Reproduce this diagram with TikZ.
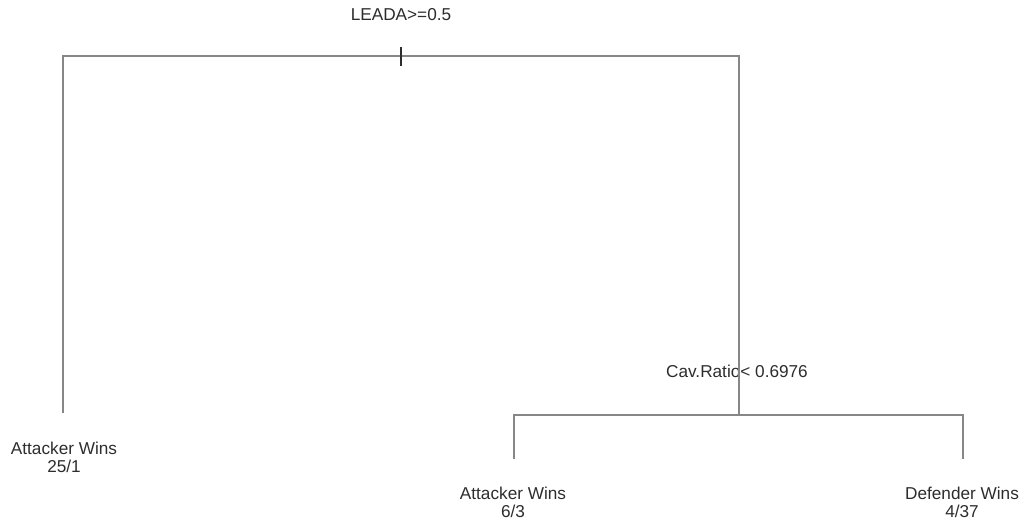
\documentclass[tikz,border=0pt]{standalone}
\usepackage{xcolor}
\usepackage{fontspec}
\setmainfont{Liberation Sans}
\usepackage{tikz}
\usetikzlibrary{positioning, calc}

\definecolor{linha}{RGB}{135,135,135}
\definecolor{texto}{RGB}{45,45,45}

\begin{document}
\begin{tikzpicture}[
        x=0.5pt, y=-0.5pt, % 1 pixel da figura original = 0.5pt
        rotulo/.style={inner sep=0pt, text=texto, font=\fontsize{8.6}{9}\selectfont},
        folha/.style={rotulo, align=center},
        ramo/.style={draw=linha, line width=0.6pt}
        ]
        \useasboundingbox (0,0) rectangle (1025,525);

        % Pontos de divisao da arvore
        \coordinate (raiz) at (401,56);
        \coordinate (esq) at (63,56);
        \coordinate (esqfim) at (63,413);
        \coordinate (dir) at (739,56);
        \coordinate (div2) at (739,415);
        \coordinate (div2esq) at (514,415);
        \coordinate (div2esqfim) at (514,459);
        \coordinate (div2dir) at (963,415);
        \coordinate (div2dirfim) at (963,459);
        \coordinate (marcaA) at (401,47);
        \coordinate (marcaB) at (401,66);

        % Rotulos
        \node[rotulo] (r1) at (401,15) {LEADA>=0.5};
        \node[rotulo] (r2) at (737,371) {Cav.Ratio< 0.6976};
        \node[folha] (f1) at (64,457) {Attacker Wins\\25/1};
        \node[folha] (f2) at (513,502) {Attacker Wins\\6/3};
        \node[folha] (f3) at (962,502) {Defender Wins\\4/37};

        % Ramos
        \draw[ramo] (esqfim) -- (esq) -- (dir) -- (div2);
        \draw[ramo] (div2esqfim) -- (div2esq) -- (div2dir) -- (div2dirfim);
        \draw[ramo, draw=texto] (marcaA) -- (marcaB);

    \end{tikzpicture}
\end{document}
